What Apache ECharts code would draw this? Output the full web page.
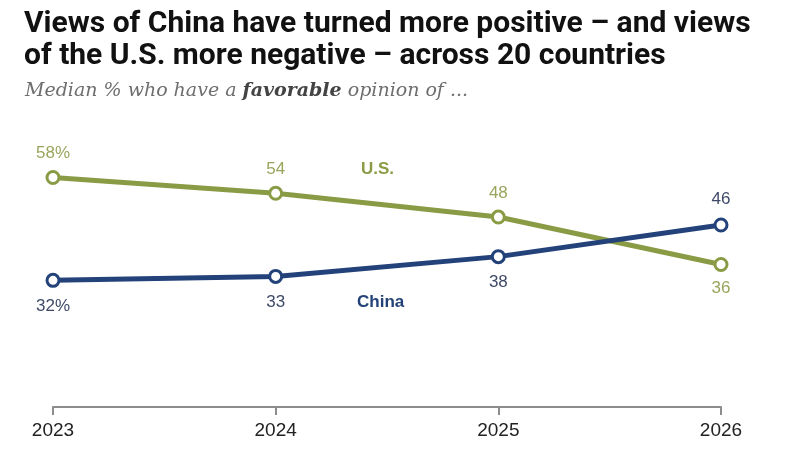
<!DOCTYPE html>
<html><head><meta charset="utf-8">
<script src="https://cdn.jsdelivr.net/npm/echarts@6/dist/echarts.min.js"></script>
<style>html,body{margin:0;padding:0;background:#fff}#c{width:800px;height:460px}</style>
</head><body><div id="c"></div>
<script>
const years = ['2023','2024','2025','2026'];
const usValues = [58, 54, 48, 36];
const chinaValues = [32, 33, 38, 46];
const usLabels = ['58%','54','48','36'];
const chinaLabels = ['32%','33','38','46'];
const usLabelPos = ['top','top','top','bottom'];
const chinaLabelPos = ['bottom','bottom','bottom','top'];

const US_C = '#8a9b45', US_T = '#98a65c';
const CN_C = '#23427a', CN_T = '#3e4a68';

function mk(vals, labs, pos, tcol){
  return vals.map((v,i)=>({value:v, label:{position:pos[i], formatter:labs[i], color:tcol}}));
}
const chart = echarts.init(document.getElementById('c'));
chart.setOption({
  animation:false,
  title:[{
    text:'Views of China have turned more positive – and views\nof the U.S. more negative – across 20 countries',
    left:19, top:3,
    textStyle:{fontFamily:'Roboto', fontWeight:'bold', fontSize:30, lineHeight:32, color:'#111'}
  },{
    text:'{i|Median % who have a }{b|favorable}{i| opinion of ...}',
    left:20, top:77,
    textStyle:{fontWeight:'normal', rich:{
      i:{fontFamily:'DejaVu Serif', fontStyle:'italic', fontWeight:'normal', fontSize:19, color:'#6e6e6e'},
      b:{fontFamily:'DejaVu Serif', fontStyle:'italic', fontWeight:'bold', fontSize:19, color:'#444'}
    }}
  }],
  grid:{left:53, right:79, top:130, bottom:53},
  xAxis:{type:'category', data:years, boundaryGap:false,
    axisLine:{lineStyle:{color:'#8c8c8c', width:2}},
    axisTick:{show:true, length:8, inside:false, lineStyle:{color:'#8c8c8c', width:2}},
    axisLabel:{fontFamily:'Liberation Sans', fontSize:19, color:'#222', margin:14}
  },
  yAxis:{type:'value', min:0, max:70, show:false, splitLine:{show:false}},
  series:[{
    type:'line', data:mk(usValues, usLabels, usLabelPos, US_T),
    lineStyle:{color:US_C, width:5}, itemStyle:{color:'#fff', borderColor:US_C, borderWidth:3},
    symbol:'circle', symbolSize:12, showAllSymbol:true,
    label:{show:true, fontFamily:'Liberation Sans', fontSize:17, distance:8}
  },{
    type:'line', data:mk(chinaValues, chinaLabels, chinaLabelPos, CN_T),
    lineStyle:{color:CN_C, width:5}, itemStyle:{color:'#fff', borderColor:CN_C, borderWidth:3},
    symbol:'circle', symbolSize:12, showAllSymbol:true,
    label:{show:true, fontFamily:'Liberation Sans', fontSize:17, distance:10}
  }],
  graphic:[
    {type:'text', left:361, top:161, style:{text:'U.S.', fontFamily:'Liberation Sans', fontWeight:'bold', fontSize:17, fill:US_C}},
    {type:'text', left:357, top:294, style:{text:'China', fontFamily:'Liberation Sans', fontWeight:'bold', fontSize:17, fill:CN_C}}
  ]
});
</script></body></html>
